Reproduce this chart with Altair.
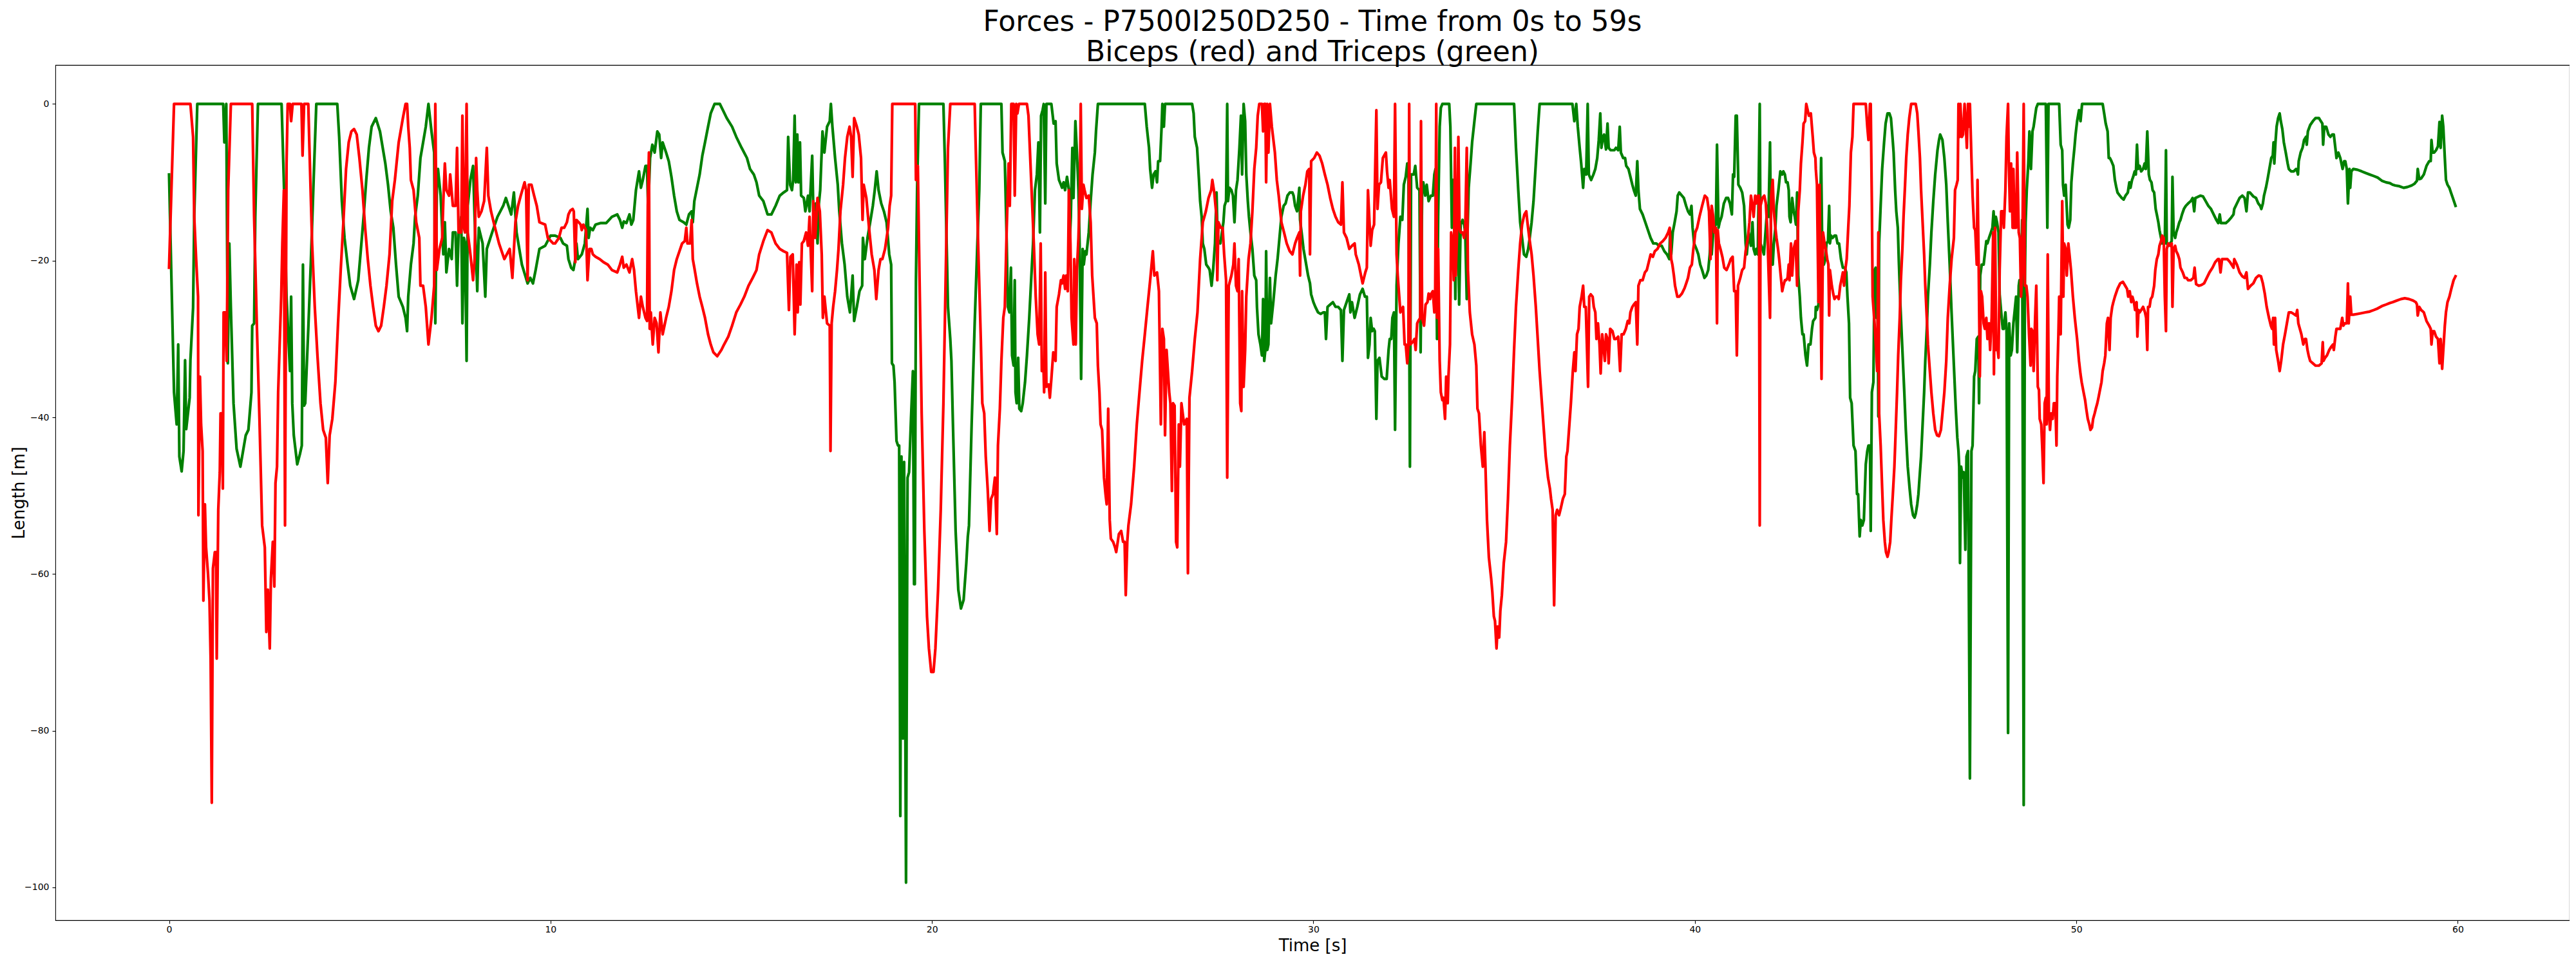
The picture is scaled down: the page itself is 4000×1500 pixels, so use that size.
import altair as alt
import pandas as pd

# ---------------------------------------------------------------------------
# Data (time [s], value) per muscle, split by window
# ---------------------------------------------------------------------------
biceps_00_10 = [
    (0.00, -20.9), (0.13, 0), (0.56, 0), (0.63, -4.2), (0.66, -14.4), (0.71, -19.8), (0.76, -24.6),
    (0.77, -52.5), (0.81, -34.8), (0.84, -40.9), (0.88, -44.3), (0.90, -63.4), (0.94, -51.1),
    (0.97, -56.6), (1.02, -59.9), (1.06, -63.4), (1.09, -70.8), (1.12, -89.2), (1.15, -59.3),
    (1.20, -57.2), (1.23, -57.2), (1.25, -70.8), (1.29, -51.8), (1.33, -47.0), (1.35, -39.5),
    (1.39, -39.5), (1.41, -49.1), (1.43, -26.6), (1.47, -26.6), (1.51, -32.8), (1.55, -11.0),
    (1.62, 0), (2.18, 0), (2.23, -14.4), (2.30, -28.0), (2.37, -40.2), (2.44, -53.8), (2.51, -56.6),
    (2.55, -67.4), (2.59, -62.0), (2.64, -69.5), (2.67, -60.6), (2.72, -55.9), (2.76, -61.6),
    (2.79, -48.4), (2.83, -46.3), (2.86, -36.8), (2.94, -24.6), (2.97, -17.8), (3.01, -11.0),
    (3.04, -53.8), (3.08, -7.6), (3.11, 0), (3.17, 0), (3.20, -2.2), (3.24, 0), (3.47, 0),
    (3.50, -6.6), (3.54, 0), (3.65, 0), (3.68, -5.6), (3.75, -17.8), (3.82, -25.9), (3.89, -32.1),
    (3.97, -38.2), (4.04, -41.6), (4.11, -42.6), (4.16, -48.4), (4.21, -42.3), (4.28, -40.2),
    (4.36, -35.5), (4.43, -28.0), (4.50, -21.2), (4.57, -15.1), (4.64, -8.3), (4.71, -4.9),
    (4.78, -3.5), (4.85, -3.2), (4.92, -3.9), (4.99, -6.9), (5.07, -11.0), (5.14, -15.8),
    (5.21, -19.8), (5.28, -23.2), (5.35, -25.9), (5.42, -28.3), (5.49, -29.0), (5.56, -28.3),
    (5.63, -25.9), (5.70, -23.2), (5.78, -19.2), (5.85, -12.4), (5.92, -9.7), (6.02, -4.9),
    (6.13, -1.8), (6.20, 0), (6.24, 0), (6.27, -2.9), (6.31, -5.6), (6.34, -9.7), (6.41, -11.0),
    (6.48, -15.1), (6.56, -17.1), (6.59, -23.2), (6.66, -23.2), (6.73, -25.9), (6.80, -30.7),
    (6.88, -27.3), (6.95, -23.2), (6.98, 0), (7.02, -21.2), (7.09, -18.5), (7.16, -17.1),
    (7.19, -12.4), (7.23, -7.6), (7.27, -11.0), (7.34, -11.7), (7.37, -9.0), (7.44, -13.0),
    (7.51, -13.0), (7.55, -5.6), (7.59, -16.4), (7.66, -16.4), (7.69, -1.5), (7.73, -15.8),
    (7.76, -16.4), (7.80, 0), (7.83, -16.4), (7.90, -19.2), (7.97, -22.5), (8.01, -19.8),
    (8.05, -6.9), (8.08, -11.0), (8.12, -14.4), (8.19, -13.7), (8.26, -12.4), (8.33, -5.6),
    (8.37, -11.7), (8.44, -13.7), (8.51, -15.1), (8.65, -17.8), (8.79, -19.8), (8.93, -18.5),
    (9.00, -22.2), (9.08, -15.1), (9.15, -13.0), (9.22, -11.7), (9.32, -10.0), (9.36, -11.0),
    (9.40, -22.5), (9.43, -10.3), (9.50, -10.3), (9.57, -11.7), (9.64, -13.0), (9.71, -15.1),
    (9.86, -15.4), (9.93, -17.1), (10.07, -17.8),
]
triceps_00_10 = [
    (0.00, -9.0), (0.13, -36.8), (0.20, -40.9), (0.24, -30.7), (0.27, -45.0), (0.33, -46.9),
    (0.38, -44.3), (0.42, -32.7), (0.45, -41.5), (0.54, -37.5), (0.56, -32.7), (0.63, -26.0),
    (0.66, -14.4), (0.74, 0), (1.42, 0), (1.45, -4.9), (1.50, 0), (1.54, -33.1), (1.58, -17.8),
    (1.62, -26.0), (1.69, -38.2), (1.77, -44.0), (1.87, -46.3), (1.94, -44.3), (2.01, -42.3),
    (2.08, -41.6), (2.16, -36.8), (2.18, -28.3), (2.23, -28.0), (2.26, -14.4), (2.33, 0),
    (2.95, 0), (3.01, -10.0), (3.08, -24.6), (3.13, -30.0), (3.17, -34.1), (3.20, -24.6),
    (3.23, -38.2), (3.27, -42.3), (3.36, -46.0), (3.43, -44.7), (3.48, -43.6), (3.51, -20.5),
    (3.54, -38.5), (3.57, -38.2), (3.65, -28.7), (3.72, -19.8), (3.79, -9.7), (3.86, 0),
    (4.41, 0), (4.46, -4.2), (4.53, -12.4), (4.60, -17.1), (4.68, -20.5), (4.75, -23.2),
    (4.85, -24.9), (4.96, -22.5), (5.03, -18.5), (5.10, -14.4), (5.17, -9.7), (5.24, -5.6),
    (5.31, -2.9), (5.42, -1.8), (5.53, -3.5), (5.67, -7.6), (5.74, -10.3), (5.81, -13.7),
    (5.88, -15.8), (5.95, -20.5), (6.02, -24.6), (6.13, -25.9), (6.20, -27.3), (6.24, -29.0),
    (6.27, -24.6), (6.34, -20.5), (6.41, -17.8), (6.45, -14.4), (6.52, -11.7), (6.59, -6.9),
    (6.66, -4.9), (6.73, -2.9), (6.80, 0), (6.88, -3.5), (6.95, -6.2), (6.98, -28.0),
    (7.02, -11.0), (7.05, -8.3), (7.12, -11.7), (7.19, -19.2), (7.23, -15.1), (7.27, -21.5),
    (7.34, -18.5), (7.41, -19.8), (7.44, -16.4), (7.51, -16.4), (7.55, -23.2), (7.59, -16.4),
    (7.66, -14.4), (7.69, -28.0), (7.73, -17.1), (7.76, -17.8), (7.80, -32.8), (7.83, -13.0),
    (7.90, -9.7), (7.97, -7.9), (8.01, -14.4), (8.08, -23.9), (8.12, -15.8), (8.22, -17.8),
    (8.29, -24.6), (8.33, -18.5), (8.47, -16.4), (8.61, -14.4), (8.76, -13.0), (8.83, -12.0),
    (8.97, -14.1), (9.04, -11.3), (9.11, -16.4), (9.25, -20.5), (9.40, -22.9), (9.47, -22.2),
    (9.54, -22.9), (9.61, -21.2), (9.71, -18.5), (9.86, -18.1), (10.00, -16.8),
]

biceps_10_21 = [
    (10.12, -17.8), (10.22, -17.1), (10.29, -15.8), (10.36, -15.8), (10.43, -15.1), (10.47, -14.1),
    (10.52, -13.6), (10.58, -13.4), (10.61, -13.7), (10.65, -20.2), (10.68, -14.8), (10.74, -15.1),
    (10.79, -15.4), (10.82, -16.1), (10.86, -15.4), (10.93, -16.1), (10.97, -22.5), (11.02, -18.5),
    (11.07, -18.5), (11.11, -19.2), (11.18, -19.5), (11.29, -19.8), (11.39, -20.2), (11.50, -20.5),
    (11.61, -21.2), (11.75, -21.5), (11.82, -20.5), (11.88, -19.5), (11.92, -20.9), (11.99, -20.5),
    (12.07, -21.5), (12.14, -19.8), (12.19, -21.2), (12.24, -23.9), (12.32, -27.3), (12.37, -24.6),
    (12.42, -25.9), (12.49, -27.3), (12.53, -27.7), (12.55, -13.0), (12.58, -6.2), (12.60, -28.7),
    (12.63, -26.6), (12.68, -30.7), (12.73, -27.3), (12.78, -28.0), (12.83, -31.7), (12.88, -26.6),
    (12.94, -29.4), (13.03, -27.3), (13.10, -25.9), (13.17, -23.9), (13.24, -21.2), (13.31, -19.8),
    (13.38, -18.8), (13.45, -17.8), (13.52, -17.5), (13.56, -15.8), (13.59, -17.8), (13.66, -17.8),
    (13.70, -14.8), (13.73, -19.8), (13.77, -20.9), (13.84, -22.9), (13.91, -24.6), (13.98, -25.9),
    (14.05, -27.3), (14.13, -29.4), (14.20, -30.7), (14.27, -31.7), (14.37, -32.2), (14.48, -31.4),
    (14.55, -30.7), (14.66, -29.7), (14.76, -28.3), (14.87, -26.6), (14.98, -25.6), (15.08, -24.6),
    (15.19, -23.2), (15.30, -22.2), (15.40, -21.2), (15.47, -19.2), (15.58, -17.5), (15.69, -16.1),
    (15.79, -16.4), (15.90, -17.8), (16.01, -18.5), (16.11, -18.8), (16.20, -19.0), (16.25, -26.3),
    (16.29, -19.5), (16.35, -19.2), (16.40, -29.4), (16.45, -20.5), (16.48, -26.6), (16.52, -20.2),
    (16.55, -25.6), (16.59, -17.8), (16.64, -17.5), (16.70, -16.4), (16.75, -18.1), (16.79, -14.4),
    (16.82, -18.5), (16.86, -23.9), (16.89, -12.4), (16.94, -17.1), (17.00, -12.0), (17.06, -13.7),
    (17.11, -19.2), (17.14, -27.3), (17.18, -24.6), (17.25, -28.0), (17.32, -28.3), (17.34, -44.3),
    (17.37, -28.0), (17.41, -25.9), (17.46, -23.9), (17.51, -21.2), (17.55, -18.5), (17.60, -13.7),
    (17.67, -10.3), (17.72, -6.9), (17.78, -4.2), (17.84, -2.9), (17.88, -4.2), (17.92, -9.3),
    (17.96, -1.8), (18.03, -2.9), (18.08, -3.9), (18.14, -6.9), (18.18, -14.8), (18.21, -10.3),
    (18.28, -12.0), (18.35, -15.8), (18.42, -19.2), (18.49, -21.2), (18.54, -24.9), (18.60, -21.2),
    (18.65, -19.8), (18.70, -19.8), (18.77, -18.5), (18.85, -15.8), (18.89, -13.0), (18.93, -11.7),
    (18.96, 0), (19.56, 0), (19.58, -9.7), (19.63, -7.9), (19.66, -17.8), (19.73, -39.5),
    (19.80, -54.5), (19.87, -65.4), (19.92, -69.5), (19.98, -72.5), (20.04, -72.5), (20.09, -69.5),
    (20.16, -62.0), (20.23, -51.8), (20.30, -38.2), (20.37, -19.2), (20.42, -5.6), (20.48, 0),
    (21.12, 0),
]
triceps_10_21 = [
    (10.12, -16.8), (10.26, -17.1), (10.33, -17.8), (10.43, -18.1), (10.47, -19.8), (10.54, -20.9),
    (10.60, -21.2), (10.65, -19.8), (10.68, -17.8), (10.72, -19.8), (10.82, -19.2), (10.90, -17.8),
    (10.97, -13.4), (11.00, -17.1), (11.04, -15.8), (11.11, -16.1), (11.18, -15.4), (11.32, -15.2),
    (11.46, -15.2), (11.61, -14.4), (11.75, -14.1), (11.82, -14.8), (11.88, -15.8), (11.92, -15.0),
    (11.99, -15.2), (12.07, -14.1), (12.12, -15.4), (12.17, -14.8), (12.24, -11.0), (12.32, -8.6),
    (12.37, -10.7), (12.42, -9.7), (12.49, -7.9), (12.53, -7.9), (12.56, -13.7), (12.61, -6.9),
    (12.67, -5.2), (12.73, -6.2), (12.80, -3.5), (12.85, -3.9), (12.90, -6.9), (12.94, -4.9),
    (13.03, -6.2), (13.10, -7.3), (13.17, -9.3), (13.24, -11.7), (13.31, -13.7), (13.38, -14.8),
    (13.49, -15.1), (13.56, -15.4), (13.63, -14.1), (13.70, -13.7), (13.73, -15.1), (13.77, -12.4),
    (13.84, -10.7), (13.91, -9.0), (13.98, -6.6), (14.05, -4.9), (14.13, -2.9), (14.20, -1.2),
    (14.30, 0), (14.44, 0), (14.52, -0.8), (14.62, -1.8), (14.76, -2.9), (14.87, -4.2),
    (15.01, -5.6), (15.15, -6.9), (15.23, -8.3), (15.33, -9.0), (15.40, -10.0), (15.47, -11.7),
    (15.58, -12.4), (15.69, -14.1), (15.79, -14.1), (15.90, -13.0), (16.01, -11.7), (16.11, -11.3),
    (16.20, -11.0), (16.23, -4.2), (16.28, -10.3), (16.33, -11.0), (16.36, -9.7), (16.40, -1.5),
    (16.43, -10.0), (16.47, -3.9), (16.50, -10.0), (16.54, -4.9), (16.57, -11.7), (16.64, -12.0),
    (16.68, -13.7), (16.75, -11.7), (16.79, -13.7), (16.86, -6.6), (16.89, -13.7), (16.96, -12.7),
    (17.00, -17.8), (17.03, -13.0), (17.07, -11.0), (17.13, -3.5), (17.18, -6.2), (17.25, -2.9),
    (17.32, -2.2), (17.35, 0), (17.39, -2.9), (17.46, -6.9), (17.53, -10.3), (17.57, -13.7),
    (17.64, -17.8), (17.71, -20.5), (17.78, -24.6), (17.85, -26.6), (17.92, -21.9), (17.96, -27.7),
    (18.03, -25.9), (18.10, -23.9), (18.17, -23.2), (18.19, -17.1), (18.24, -19.8), (18.31, -17.1),
    (18.38, -15.1), (18.45, -13.0), (18.50, -11.0), (18.55, -8.6), (18.60, -11.0), (18.67, -12.7),
    (18.74, -13.7), (18.81, -15.1), (18.88, -19.2), (18.93, -20.5), (18.95, -33.1), (18.99, -33.4),
    (19.02, -35.5), (19.07, -43.0), (19.11, -43.6), (19.14, -43.6), (19.17, -90.9), (19.20, -45.0),
    (19.24, -81.0), (19.27, -45.7), (19.32, -99.4), (19.36, -47.7), (19.40, -47.0), (19.45, -40.2),
    (19.50, -34.1), (19.53, -61.3), (19.55, -61.3), (19.58, -22.5), (19.61, -11.0), (19.66, 0),
    (20.30, 0), (20.34, -7.6), (20.42, -25.9), (20.48, -30.0), (20.51, -32.8), (20.55, -40.9),
    (20.62, -54.5), (20.69, -62.0), (20.76, -64.4), (20.83, -63.3), (20.90, -58.6), (20.94, -55.2),
    (20.97, -53.8), (21.04, -40.9), (21.12, -28.0), (21.19, -17.8), (21.24, -11.0),
]

biceps_21_32 = [
    (21.14, -4.2), (21.21, -17.8), (21.28, -30.0), (21.32, -38.2), (21.37, -39.5), (21.41, -45.0),
    (21.46, -49.1), (21.51, -54.5), (21.55, -50.4), (21.60, -49.8), (21.65, -47.7), (21.70, -54.9),
    (21.73, -43.6), (21.78, -38.9), (21.82, -32.8), (21.87, -27.3), (21.91, -25.9), (21.96, -15.8),
    (22.01, -7.6), (22.04, -13.0), (22.08, 0), (22.14, 0), (22.17, -11.7), (22.21, 0), (22.24, -1.2),
    (22.28, 0), (22.49, 0), (22.53, -1.5), (22.60, -9.7), (22.67, -17.8), (22.72, -24.6),
    (22.77, -29.4), (22.81, -30.7), (22.85, -17.8), (22.88, -34.1), (22.92, -32.8), (22.94, -36.8),
    (22.97, -21.5), (23.00, -36.1), (23.06, -35.8), (23.09, -37.5), (23.13, -35.1), (23.18, -31.7),
    (23.24, -32.8), (23.27, -25.9), (23.33, -24.3), (23.38, -22.5), (23.41, -22.9), (23.45, -21.9),
    (23.49, -23.6), (23.52, -21.9), (23.56, -23.9), (23.59, -11.0), (23.63, -17.8), (23.66, -27.3),
    (23.71, -30.7), (23.73, -19.8), (23.77, -30.7), (23.80, -21.2), (23.84, -17.1), (23.88, -10.3),
    (23.90, 0), (23.93, -13.4), (23.97, -10.3), (24.00, -11.0), (24.05, -12.0), (24.11, -11.7),
    (24.16, -15.1), (24.20, -21.9), (24.27, -27.3), (24.32, -28.0), (24.35, -33.4), (24.39, -36.8),
    (24.42, -40.9), (24.46, -41.6), (24.51, -47.7), (24.55, -49.8), (24.58, -51.1), (24.62, -38.9),
    (24.66, -53.1), (24.69, -55.5), (24.75, -55.9), (24.80, -56.6), (24.83, -57.2), (24.87, -55.9),
    (24.90, -54.9), (24.96, -54.5), (25.01, -55.9), (25.05, -55.9), (25.08, -62.7), (25.12, -55.9),
    (25.15, -53.8), (25.22, -51.1), (25.30, -46.3), (25.37, -40.9), (25.44, -36.8), (25.51, -32.8),
    (25.58, -29.4), (25.65, -25.9), (25.72, -22.5), (25.79, -18.8), (25.83, -21.9), (25.90, -21.5),
    (25.95, -23.9), (26.00, -40.9), (26.04, -28.7), (26.08, -30.0), (26.11, -42.3), (26.15, -31.4),
    (26.22, -36.8), (26.25, -38.2), (26.29, -49.4), (26.32, -38.2), (26.36, -38.5), (26.40, -55.9),
    (26.43, -56.6), (26.47, -40.9), (26.50, -46.3), (26.54, -38.2), (26.61, -40.9), (26.68, -40.2),
    (26.71, -59.9), (26.75, -37.5), (26.82, -34.1), (26.89, -30.0), (26.96, -26.6), (27.03, -19.8),
    (27.10, -15.1), (27.18, -13.7), (27.25, -12.0), (27.32, -11.0), (27.35, -9.7), (27.40, -11.3),
    (27.46, -14.4), (27.48, -22.5), (27.51, -15.1), (27.57, -15.8), (27.62, -15.8), (27.66, -19.2),
    (27.71, -22.5), (27.74, -47.7), (27.78, -23.2), (27.85, -21.9), (27.90, -20.5), (27.93, -17.8),
    (27.97, -23.2), (28.01, -23.9), (28.04, -19.8), (28.08, -38.2), (28.11, -39.2), (28.13, -23.9),
    (28.17, -36.1), (28.21, -31.4), (28.24, -24.6), (28.30, -19.8), (28.35, -17.8), (28.40, -13.7),
    (28.45, -8.3), (28.50, -5.6), (28.54, -1.5), (28.58, 0), (28.65, 0), (28.68, -3.5), (28.71, 0),
    (28.74, 0), (28.76, -10.0), (28.79, 0), (28.82, -6.2), (28.86, 0), (28.91, -2.9), (28.99, -6.2),
    (29.04, -9.7), (29.09, -11.7), (29.16, -15.1), (29.23, -16.4), (29.30, -17.8), (29.38, -18.8),
    (29.45, -19.2), (29.52, -17.8), (29.57, -17.1), (29.63, -16.4), (29.65, -21.9), (29.67, -13.7),
    (29.73, -11.7), (29.79, -10.3), (29.84, -8.6), (29.89, -8.3), (29.91, -19.2), (29.94, -7.3),
    (30.02, -6.9), (30.09, -6.2), (30.16, -6.6), (30.23, -7.6), (30.30, -9.0), (30.37, -10.3),
    (30.44, -12.0), (30.51, -13.4), (30.58, -14.4), (30.65, -15.1), (30.72, -15.4), (30.76, -10.0),
    (30.80, -16.4), (30.87, -17.1), (30.94, -18.5), (31.01, -18.1), (31.08, -17.8), (31.11, -19.2),
    (31.19, -20.5), (31.26, -22.2), (31.29, -22.9), (31.36, -21.5), (31.40, -20.9), (31.43, -11.0),
    (31.47, -15.1), (31.50, -18.1), (31.54, -16.1), (31.59, -15.4), (31.65, -0.8), (31.68, -13.4),
    (31.72, -10.3), (31.77, -10.0), (31.82, -6.9), (31.90, -6.2), (31.93, -8.6), (31.97, -10.7),
    (32.00, -9.7), (32.06, -13.4), (32.11, -14.4), (32.14, 0), (32.18, -19.2),
]
triceps_21_32 = [
    (21.28, 0), (21.82, 0), (21.85, -6.2), (21.91, -7.3), (21.96, -17.8), (21.99, -25.9),
    (22.03, -26.6), (22.07, -20.9), (22.10, -32.1), (22.14, -33.4), (22.17, -22.5), (22.19, -36.8),
    (22.22, -38.2), (22.26, -32.4), (22.29, -38.9), (22.34, -39.2), (22.38, -38.2), (22.44, -35.5),
    (22.49, -32.1), (22.55, -27.3), (22.60, -22.5), (22.65, -17.8), (22.70, -11.0), (22.75, -9.0),
    (22.79, -4.9), (22.83, -16.4), (22.86, -1.5), (22.90, -0.8), (22.93, 0), (22.97, -12.7),
    (23.00, 0), (23.13, 0), (23.19, -2.5), (23.24, -2.2), (23.27, -7.6), (23.33, -9.7),
    (23.38, -10.3), (23.41, -10.7), (23.45, -10.0), (23.49, -11.0), (23.54, -9.3), (23.59, -11.0),
    (23.61, -17.8), (23.64, -14.4), (23.68, -5.6), (23.71, -12.0), (23.76, -2.2), (23.80, -6.2),
    (23.84, -11.0), (23.87, -17.8), (23.91, -35.1), (23.95, -18.5), (23.98, -20.5), (24.02, -18.8),
    (24.05, -19.2), (24.11, -16.4), (24.16, -12.4), (24.21, -9.0), (24.27, -6.2), (24.30, -3.5),
    (24.35, 0), (25.58, 0), (25.63, -2.9), (25.69, -5.6), (25.72, -8.3), (25.77, -10.7),
    (25.81, -9.0), (25.86, -8.6), (25.90, -10.0), (25.93, -7.3), (25.98, -7.3), (26.02, -2.9),
    (26.04, 0), (26.08, -2.9), (26.11, 0), (26.82, 0), (26.86, -1.2), (26.89, -4.2), (26.95, -5.6),
    (27.00, -9.7), (27.03, -12.4), (27.07, -14.4), (27.10, -17.8), (27.14, -18.5), (27.19, -20.5),
    (27.25, -20.9), (27.28, -21.2), (27.33, -23.2), (27.37, -21.2), (27.42, -17.8), (27.46, -11.3),
    (27.49, -17.8), (27.53, -17.5), (27.56, -17.8), (27.64, -15.1), (27.67, -13.0), (27.71, -12.4),
    (27.74, 0), (27.76, -12.4), (27.80, -10.7), (27.85, -11.0), (27.89, -11.7), (27.93, -15.1),
    (27.97, -11.0), (28.01, -9.7), (28.06, -5.6), (28.10, -1.5), (28.13, -9.0), (28.17, 0),
    (28.21, -2.2), (28.24, -9.0), (28.28, -12.4), (28.31, -14.4), (28.35, -16.4), (28.40, -18.5),
    (28.45, -21.9), (28.50, -22.5), (28.52, -25.9), (28.56, -29.4), (28.61, -30.7), (28.65, -32.1),
    (28.68, -24.9), (28.71, -32.8), (28.74, -31.4), (28.76, -18.8), (28.79, -31.4), (28.82, -30.7),
    (28.86, -22.2), (28.89, -28.0), (28.95, -25.2), (29.01, -21.9), (29.06, -19.8), (29.11, -17.1),
    (29.16, -14.4), (29.22, -13.0), (29.27, -12.7), (29.32, -11.7), (29.38, -11.3), (29.45, -11.3),
    (29.48, -11.7), (29.52, -13.0), (29.57, -13.7), (29.63, -10.7), (29.65, -14.8), (29.70, -16.8),
    (29.74, -18.5), (29.80, -20.2), (29.86, -21.9), (29.91, -22.9), (29.94, -24.3), (30.00, -25.3),
    (30.05, -25.9), (30.12, -26.6), (30.19, -26.8), (30.26, -26.6), (30.30, -26.6), (30.33, -30.0),
    (30.37, -25.9), (30.44, -25.6), (30.51, -25.3), (30.58, -25.9), (30.65, -25.9), (30.72, -26.3),
    (30.76, -32.8), (30.80, -26.3), (30.87, -25.3), (30.94, -24.3), (30.97, -26.6), (31.01, -25.3),
    (31.08, -27.3), (31.15, -25.9), (31.22, -24.3), (31.29, -23.6), (31.35, -24.6), (31.40, -24.6),
    (31.43, -32.4), (31.47, -30.7), (31.50, -27.3), (31.54, -29.0), (31.58, -28.7), (31.61, -29.0),
    (31.65, -40.2), (31.68, -32.8), (31.73, -32.4), (31.79, -34.8), (31.86, -35.1), (31.92, -35.1),
    (31.97, -31.4), (32.00, -30.0), (32.04, -30.0), (32.07, -27.3), (32.11, -26.6), (32.14, -41.6),
    (32.18, -23.2),
]

biceps_32_43 = [
    (32.21, -21.9), (32.28, -26.6), (32.35, -25.9), (32.39, -30.7), (32.42, -30.7), (32.46, -33.1),
    (32.49, -30.7), (32.51, 0), (32.54, -30.7), (32.60, -30.4), (32.65, -30.0), (32.68, -31.4),
    (32.72, -28.0), (32.75, -27.7), (32.80, -27.3), (32.82, -2.2), (32.85, -27.3), (32.90, -28.3),
    (32.94, -25.6), (32.99, -25.3), (33.02, -24.2), (33.06, -24.9), (33.09, -24.2), (33.13, -23.9),
    (33.17, -26.6), (33.19, -25.9), (33.22, 0), (33.24, -27.3), (33.27, -18.5), (33.31, -32.8),
    (33.34, -36.8), (33.38, -37.8), (33.41, -37.5), (33.45, -40.2), (33.48, -34.8), (33.52, -38.2),
    (33.54, -34.8), (33.58, -30.7), (33.61, -16.4), (33.65, -17.8), (33.68, -22.5), (33.71, -5.6),
    (33.73, -21.9), (33.77, -15.8), (33.80, -4.2), (33.83, -15.8), (33.86, -16.4), (33.91, -16.4),
    (33.95, -17.1), (33.98, -15.8), (34.02, -5.6), (34.05, -21.2), (34.10, -26.6), (34.16, -29.4),
    (34.22, -30.7), (34.27, -33.4), (34.30, -38.9), (34.34, -39.5), (34.39, -43.6), (34.44, -46.3),
    (34.48, -41.9), (34.51, -46.3), (34.55, -53.1), (34.60, -57.9), (34.66, -60.6), (34.69, -62.3),
    (34.73, -65.4), (34.76, -66.0), (34.80, -69.5), (34.83, -66.7), (34.87, -68.1), (34.90, -64.7),
    (34.94, -62.7), (34.99, -58.6), (35.05, -55.9), (35.10, -50.4), (35.15, -43.6), (35.21, -37.5),
    (35.26, -31.4), (35.31, -25.9), (35.37, -21.2), (35.42, -17.8), (35.47, -15.4), (35.53, -14.1),
    (35.58, -13.7), (35.61, -15.1), (35.66, -17.1), (35.72, -19.2), (35.77, -21.9), (35.83, -25.9),
    (35.88, -30.0), (35.93, -34.1), (35.99, -38.2), (36.04, -41.6), (36.09, -45.0), (36.15, -47.7),
    (36.20, -49.1), (36.23, -50.4), (36.27, -51.8), (36.31, -64.0), (36.35, -52.5), (36.39, -51.8),
    (36.44, -52.5), (36.49, -51.5), (36.54, -50.4), (36.59, -49.8), (36.63, -45.0), (36.66, -44.3),
    (36.70, -41.6), (36.75, -38.2), (36.80, -34.1), (36.84, -31.7), (36.87, -34.1), (36.91, -29.4),
    (36.95, -28.7), (36.98, -25.9), (37.03, -24.6), (37.07, -23.2), (37.10, -25.9), (37.14, -25.9),
    (37.20, -36.1), (37.23, -24.6), (37.27, -24.3), (37.32, -24.6), (37.35, -25.9), (37.39, -26.6),
    (37.42, -30.0), (37.46, -28.0), (37.50, -30.7), (37.53, -34.4), (37.57, -29.4), (37.60, -30.7),
    (37.64, -32.8), (37.67, -29.4), (37.71, -30.0), (37.74, -33.1), (37.78, -28.7), (37.84, -29.0),
    (37.89, -30.0), (37.93, -30.0), (37.99, -29.7), (38.04, -34.1), (38.08, -29.4), (38.13, -29.4),
    (38.19, -28.7), (38.24, -27.7), (38.28, -28.0), (38.31, -26.6), (38.36, -25.9), (38.40, -25.6),
    (38.45, -25.3), (38.49, -30.7), (38.52, -23.2), (38.57, -22.5), (38.63, -22.5), (38.69, -21.5),
    (38.74, -21.2), (38.79, -20.2), (38.84, -19.2), (38.90, -19.5), (38.95, -18.8), (39.02, -18.5),
    (39.09, -17.8), (39.16, -17.5), (39.23, -17.1), (39.30, -16.4), (39.34, -15.8), (39.38, -19.8),
    (39.41, -20.5), (39.45, -21.9), (39.48, -23.2), (39.54, -24.6), (39.59, -24.6), (39.66, -24.2),
    (39.73, -23.5), (39.78, -22.8), (39.82, -22.2), (39.87, -20.9), (39.92, -20.5), (39.96, -18.5),
    (39.98, -17.8), (40.01, -16.4), (40.06, -15.8), (40.12, -14.4), (40.19, -13.0), (40.26, -11.7),
    (40.32, -12.0), (40.37, -13.7), (40.41, -19.8), (40.44, -13.0), (40.48, -14.4), (40.51, -16.4),
    (40.55, -15.8), (40.58, -28.0), (40.60, -16.1), (40.63, -17.8), (40.67, -18.5), (40.72, -19.5),
    (40.77, -20.9), (40.83, -21.2), (40.89, -20.5), (40.94, -19.8), (40.99, -19.5), (41.03, -23.9),
    (41.07, -23.9), (41.10, -32.1), (41.13, -23.2), (41.19, -22.2), (41.24, -21.2), (41.29, -20.9),
    (41.33, -18.8), (41.39, -17.1), (41.43, -15.1), (41.47, -11.7), (41.51, -13.0), (41.54, -14.4),
    (41.58, -11.7), (41.61, -12.7), (41.65, -11.7), (41.68, -11.7), (41.70, -53.8), (41.72, -13.0),
    (41.77, -12.0), (41.82, -11.7), (41.86, -12.7), (41.90, -16.1), (41.93, -21.2), (41.97, -27.3),
    (42.00, -11.7), (42.04, -9.7), (42.07, -13.7), (42.11, -15.8), (42.14, -17.1), (42.18, -18.5),
    (42.21, -19.8), (42.25, -21.9), (42.29, -23.9), (42.32, -23.2), (42.36, -22.5), (42.39, -22.5),
    (42.43, -22.2), (42.46, -20.5), (42.48, -22.5), (42.52, -17.8), (42.55, -21.9), (42.59, -18.5),
    (42.64, -17.5), (42.68, -23.2), (42.71, -13.7), (42.75, -11.0), (42.78, -7.6), (42.82, -4.9),
    (42.85, -2.5), (42.89, -2.2), (42.92, 0), (42.99, -1.5), (43.04, -1.2), (43.09, -4.2),
    (43.12, -6.2), (43.16, -6.9),
]
triceps_32_43 = [
    (32.23, -17.8), (32.28, -14.4), (32.33, -14.8), (32.37, -10.3), (32.42, -9.3), (32.46, -7.6),
    (32.49, -7.9), (32.53, -46.3), (32.56, -9.0), (32.63, -9.0), (32.67, -7.9), (32.72, -10.7),
    (32.78, -11.0), (32.81, -31.7), (32.85, -11.0), (32.88, -10.0), (32.93, -11.7), (32.97, -10.3),
    (33.02, -12.4), (33.08, -11.7), (33.13, -11.7), (33.17, -9.0), (33.20, -8.3), (33.24, -30.0),
    (33.27, -14.4), (33.31, -2.9), (33.34, -0.5), (33.38, 0), (33.56, 0), (33.59, -2.9),
    (33.63, -15.8), (33.66, -9.7), (33.70, -15.8), (33.72, -24.9), (33.75, -13.0), (33.79, -15.8),
    (33.82, -25.6), (33.86, -15.4), (33.91, -14.8), (33.95, -15.4), (33.98, -16.4), (34.02, -24.9),
    (34.04, -16.4), (34.07, -10.7), (34.12, -7.6), (34.16, -4.9), (34.22, -2.2), (34.27, 0),
    (35.26, 0), (35.31, -5.6), (35.37, -11.0), (35.42, -15.1), (35.47, -17.1), (35.52, -19.2),
    (35.58, -19.5), (35.63, -18.5), (35.67, -17.1), (35.72, -15.1), (35.77, -12.4), (35.83, -7.6),
    (35.88, -3.5), (35.93, 0), (36.79, 0), (36.84, -2.2), (36.89, 0), (36.93, -2.9), (36.98, -5.6),
    (37.02, -7.6), (37.07, -10.7), (37.10, -8.3), (37.15, -9.0), (37.19, 0), (37.22, -9.0),
    (37.28, -9.7), (37.34, -9.0), (37.39, -8.3), (37.44, -6.9), (37.48, -4.6), (37.52, -1.2),
    (37.55, -5.6), (37.59, -4.2), (37.62, -3.9), (37.67, -5.8), (37.71, -2.5), (37.74, -5.6),
    (37.79, -5.9), (37.85, -5.9), (37.89, -5.9), (37.93, -5.6), (37.99, -5.9), (38.03, -2.9),
    (38.06, -6.2), (38.12, -6.9), (38.17, -6.9), (38.20, -7.9), (38.26, -8.3), (38.31, -9.3),
    (38.36, -10.3), (38.40, -11.0), (38.45, -11.7), (38.49, -7.3), (38.52, -11.0), (38.56, -13.4),
    (38.63, -14.1), (38.70, -15.1), (38.77, -16.1), (38.84, -17.1), (38.91, -17.8), (38.99, -17.8),
    (39.06, -18.1), (39.13, -18.1), (39.20, -18.8), (39.27, -19.2), (39.33, -19.8), (39.35, -16.1),
    (39.38, -19.2), (39.42, -16.4), (39.47, -15.1), (39.52, -13.7), (39.55, -11.7), (39.59, -11.3),
    (39.66, -11.7), (39.71, -12.0), (39.77, -13.0), (39.82, -13.7), (39.87, -14.1), (39.91, -13.0),
    (39.94, -15.8), (39.98, -17.8), (40.04, -18.5), (40.09, -19.2), (40.14, -20.5), (40.19, -21.2),
    (40.25, -22.2), (40.30, -21.9), (40.35, -21.2), (40.39, -19.2), (40.42, -16.4), (40.44, -19.2),
    (40.49, -15.8), (40.55, -15.4), (40.58, -5.2), (40.62, -15.8), (40.65, -15.1), (40.70, -14.4),
    (40.76, -12.7), (40.82, -12.0), (40.87, -12.0), (40.92, -12.7), (40.97, -14.1), (41.00, -9.0),
    (41.03, -9.3), (41.07, -1.5), (41.10, -1.5), (41.14, -10.3), (41.19, -10.7), (41.24, -11.3),
    (41.29, -13.0), (41.33, -17.8), (41.36, -19.2), (41.41, -16.4), (41.47, -18.1), (41.51, -15.1),
    (41.54, -18.5), (41.58, -19.2), (41.61, -18.5), (41.65, -19.2), (41.70, 0), (41.72, -17.8),
    (41.77, -18.5), (41.81, -19.2), (41.86, -15.8), (41.90, -13.0), (41.93, -14.4), (41.97, -4.9),
    (42.00, -19.2), (42.04, -20.5), (42.07, -17.8), (42.11, -15.8), (42.14, -13.0), (42.19, -11.0),
    (42.24, -8.6), (42.29, -9.0), (42.32, -8.6), (42.36, -9.0), (42.39, -10.0), (42.43, -10.0),
    (42.46, -11.0), (42.48, -14.4), (42.51, -15.1), (42.55, -12.0), (42.59, -13.7), (42.62, -14.4),
    (42.65, -15.4), (42.68, -11.3), (42.71, -21.9), (42.75, -24.6), (42.78, -27.3), (42.82, -29.4),
    (42.85, -29.4), (42.90, -32.1), (42.94, -33.4), (42.98, -30.7), (43.03, -30.7), (43.07, -28.7),
    (43.10, -27.7), (43.16, -27.3),
]

biceps_43_54 = [
    (43.17, -8.3), (43.20, -10.3), (43.24, -25.3), (43.27, -10.3), (43.30, -25.9), (43.32, -35.1),
    (43.36, -16.4), (43.40, -17.8), (43.43, -18.5), (43.47, -19.8), (43.50, -20.5), (43.52, -27.0),
    (43.54, -21.2), (43.59, -23.2), (43.63, -24.3), (43.66, -24.9), (43.70, -24.6), (43.74, -24.6),
    (43.77, -24.9), (43.81, -23.2), (43.84, -22.5), (43.88, -21.5), (43.91, -23.2), (43.95, -20.9),
    (43.98, -19.8), (44.02, -15.8), (44.05, -13.0), (44.09, -6.2), (44.13, -4.2), (44.16, 0),
    (44.48, 0), (44.52, -2.9), (44.55, -4.6), (44.59, 0), (44.61, 0), (44.64, -13.0), (44.66, -24.6),
    (44.71, -28.0), (44.75, -31.4), (44.78, -34.1), (44.81, -16.4), (44.83, -39.5), (44.87, -43.6),
    (44.91, -49.1), (44.94, -53.1), (44.98, -55.9), (45.01, -57.2), (45.05, -57.8), (45.08, -57.2),
    (45.12, -55.9), (45.15, -53.1), (45.19, -49.8), (45.23, -46.3), (45.26, -42.3), (45.30, -36.8),
    (45.33, -32.1), (45.37, -27.3), (45.40, -22.5), (45.44, -18.5), (45.47, -14.4), (45.51, -10.3),
    (45.54, -6.9), (45.58, -3.9), (45.62, -1.8), (45.67, 0), (45.79, 0), (45.83, -1.2), (45.86, -3.5),
    (45.90, -6.9), (45.93, -11.0), (45.97, -15.1), (46.01, -19.2), (46.04, -23.2), (46.08, -27.3),
    (46.11, -30.7), (46.16, -34.1), (46.20, -36.8), (46.25, -39.5), (46.30, -41.6), (46.35, -42.3),
    (46.40, -42.4), (46.45, -41.6), (46.49, -39.5), (46.54, -36.8), (46.59, -32.8), (46.63, -27.3),
    (46.68, -23.2), (46.73, -19.8), (46.79, -17.1), (46.82, -11.0), (46.86, -10.3), (46.89, -9.7),
    (46.91, 0), (46.94, -4.2), (46.96, 0), (47.00, -4.2), (47.03, -3.9), (47.07, 0), (47.11, -3.5),
    (47.13, -5.6), (47.16, 0), (47.19, -2.9), (47.21, 0), (47.25, -6.9), (47.28, -11.7),
    (47.32, -15.8), (47.35, -16.1), (47.39, -20.5), (47.41, -9.7), (47.44, -20.5), (47.47, -34.8),
    (47.50, -23.9), (47.53, -24.6), (47.57, -28.0), (47.60, -28.7), (47.64, -27.3), (47.67, -30.0),
    (47.71, -28.0), (47.74, -31.4), (47.78, -27.3), (47.82, -16.4), (47.84, -34.5), (47.87, -15.8),
    (47.90, -31.4), (47.94, -31.4), (47.96, -32.4), (47.99, -21.2), (48.03, -13.7), (48.07, -13.7),
    (48.10, -15.8), (48.14, -11.0), (48.17, -4.2), (48.21, 0), (48.23, -7.6), (48.26, -13.7),
    (48.29, -7.6), (48.33, -15.8), (48.35, -8.3), (48.38, -15.8), (48.42, -15.8), (48.45, -6.2),
    (48.49, -16.4), (48.52, -17.1), (48.55, -24.6), (48.58, -21.2), (48.62, 0), (48.65, -23.2),
    (48.69, -23.2), (48.72, -24.6), (48.76, -29.4), (48.80, -33.4), (48.82, -28.7), (48.85, -29.0),
    (48.88, -34.1), (48.92, -27.3), (48.95, -23.2), (48.99, -36.1), (49.02, -36.5), (49.04, -40.2),
    (49.08, -40.9), (49.11, -44.3), (49.14, -48.4), (49.17, -38.2), (49.20, -37.5), (49.22, -40.9),
    (49.25, -19.2), (49.28, -39.5), (49.31, -41.6), (49.34, -39.5), (49.38, -40.2), (49.41, -38.2),
    (49.45, -38.2), (49.48, -43.6), (49.50, -34.8), (49.53, -29.4), (49.55, -24.6), (49.59, -29.4),
    (49.63, -12.4), (49.66, -24.6), (49.68, -17.8), (49.72, -18.5), (49.75, -21.9), (49.79, -17.8),
    (49.82, -19.2), (49.86, -21.2), (49.91, -24.6), (49.96, -27.3), (50.02, -30.0), (50.07, -32.8),
    (50.11, -34.5), (50.14, -35.5), (50.19, -36.8), (50.23, -37.8), (50.26, -38.9), (50.30, -40.2),
    (50.34, -40.9), (50.37, -41.6), (50.41, -41.3), (50.44, -40.2), (50.48, -39.5), (50.51, -38.9),
    (50.55, -38.2), (50.58, -37.5), (50.62, -36.5), (50.66, -35.5), (50.69, -34.1), (50.73, -33.1),
    (50.76, -32.1), (50.80, -28.0), (50.83, -27.3), (50.87, -31.4), (50.90, -27.3), (50.94, -25.9),
    (50.97, -25.3), (51.01, -24.6), (51.08, -23.6), (51.15, -22.9), (51.22, -22.7), (51.28, -23.2),
    (51.33, -23.6), (51.36, -24.6), (51.40, -23.9), (51.44, -25.3), (51.47, -24.6), (51.51, -25.3),
    (51.54, -26.3), (51.58, -25.3), (51.60, -29.7), (51.63, -26.3), (51.66, -26.6), (51.70, -26.3),
    (51.75, -25.9), (51.80, -26.6), (51.83, -27.3), (51.86, -31.4), (51.88, -25.9), (51.92, -25.9),
    (51.95, -24.9), (51.99, -24.6), (52.04, -23.2), (52.07, -21.2), (52.11, -19.8), (52.15, -19.2),
    (52.18, -18.1), (52.22, -17.5), (52.25, -16.8), (52.29, -17.1), (52.32, -24.6), (52.35, -29.0),
    (52.37, -18.5), (52.41, -17.8), (52.46, -18.1), (52.50, -17.8), (52.52, -25.9), (52.55, -18.5),
    (52.59, -18.1), (52.62, -18.8), (52.66, -19.2), (52.70, -19.8), (52.73, -20.9), (52.79, -21.5),
    (52.84, -22.2), (52.89, -22.2), (52.93, -22.5), (53.00, -22.5), (53.07, -22.2), (53.10, -20.9),
    (53.14, -23.0), (53.21, -23.2), (53.28, -23.1), (53.35, -22.9), (53.42, -22.2), (53.49, -21.5),
    (53.57, -20.9), (53.64, -20.2), (53.71, -19.8), (53.74, -19.8), (53.78, -21.5), (53.82, -19.8),
    (53.89, -19.8), (53.96, -19.8), (54.03, -20.2), (54.12, -20.9),
]
triceps_43_54 = [
    (43.17, -25.9), (43.20, -26.3), (43.24, -25.6), (43.31, -6.9), (43.34, -19.2), (43.38, -20.5),
    (43.42, -19.8), (43.45, -17.8), (43.49, -17.5), (43.52, -13.0), (43.54, -17.8), (43.57, -16.8),
    (43.61, -17.1), (43.66, -16.8), (43.70, -16.8), (43.74, -17.8), (43.78, -17.8), (43.83, -19.8),
    (43.88, -20.9), (43.93, -20.9), (43.97, -21.5), (44.00, -24.6), (44.04, -28.0), (44.07, -37.5),
    (44.11, -38.2), (44.16, -43.6), (44.21, -44.3), (44.25, -49.8), (44.28, -49.8), (44.32, -55.2),
    (44.35, -53.1), (44.39, -53.8), (44.43, -53.1), (44.48, -46.0), (44.52, -44.3), (44.55, -43.6),
    (44.59, -43.6), (44.61, -54.5), (44.64, -36.8), (44.68, -35.5), (44.71, -21.2), (44.74, -20.9),
    (44.76, -27.3), (44.79, -23.2), (44.81, -39.9), (44.83, -17.8), (44.87, -13.0), (44.91, -8.3),
    (44.96, -4.9), (45.00, -2.5), (45.05, -1.2), (45.10, -1.2), (45.14, -1.8), (45.18, -4.2),
    (45.21, -6.2), (45.25, -11.0), (45.28, -13.7), (45.32, -15.8), (45.35, -20.5), (45.39, -25.9),
    (45.44, -31.4), (45.49, -36.8), (45.53, -41.6), (45.58, -46.3), (45.63, -49.1), (45.67, -51.1),
    (45.72, -52.5), (45.76, -52.8), (45.79, -52.3), (45.83, -51.1), (45.86, -49.8), (45.90, -47.0),
    (45.93, -45.0), (45.97, -40.9), (46.01, -36.8), (46.04, -32.8), (46.08, -28.7), (46.11, -24.6),
    (46.16, -20.5), (46.20, -16.4), (46.25, -12.4), (46.30, -9.0), (46.36, -5.9), (46.40, -4.6),
    (46.43, -3.9), (46.49, -4.6), (46.54, -6.9), (46.59, -10.3), (46.63, -15.1), (46.68, -20.5),
    (46.73, -26.7), (46.79, -33.4), (46.84, -38.9), (46.88, -42.6), (46.91, -44.3), (46.93, -46.3),
    (46.95, -58.6), (46.98, -46.3), (47.02, -47.7), (47.05, -47.0), (47.09, -56.9), (47.12, -45.0),
    (47.16, -44.3), (47.21, -86.1), (47.25, -44.3), (47.28, -43.6), (47.32, -34.8), (47.35, -34.1),
    (47.39, -30.0), (47.43, -29.7), (47.45, -38.2), (47.48, -21.9), (47.52, -20.5), (47.57, -20.5),
    (47.60, -19.2), (47.64, -17.5), (47.67, -17.8), (47.71, -17.1), (47.76, -16.4), (47.80, -15.8),
    (47.83, -13.7), (47.86, -16.4), (47.89, -14.4), (47.92, -15.1), (47.96, -16.4), (47.99, -24.3),
    (48.03, -26.6), (48.07, -28.7), (48.10, -28.7), (48.14, -26.6), (48.17, -28.7), (48.21, -80.3),
    (48.24, -28.0), (48.28, -32.1), (48.31, -31.4), (48.35, -28.0), (48.38, -26.6), (48.42, -24.6),
    (48.45, -31.7), (48.49, -23.2), (48.51, -22.5), (48.55, -23.2), (48.58, -14.8), (48.62, -89.5),
    (48.65, -23.2), (48.67, -15.1), (48.70, -11.0), (48.74, -7.6), (48.77, -3.5), (48.81, -8.3),
    (48.85, -3.5), (48.88, -2.9), (48.92, -1.5), (48.95, -0.5), (48.99, 0), (49.20, 0),
    (49.24, -15.8), (49.27, 0), (49.55, 0), (49.59, -5.2), (49.63, -5.9), (49.65, -10.3),
    (49.68, -11.7), (49.72, -10.3), (49.77, -15.4), (49.80, -15.8), (49.84, -14.8), (49.87, -10.0),
    (49.91, -7.6), (49.95, -5.6), (49.98, -3.9), (50.02, -2.2), (50.07, -0.8), (50.11, -2.2),
    (50.15, 0), (50.69, 0), (50.73, -1.2), (50.77, -2.5), (50.82, -3.5), (50.85, -6.9), (50.88, -6.9),
    (50.92, -7.3), (50.97, -7.9), (51.01, -9.7), (51.05, -10.7), (51.08, -11.3), (51.14, -11.7),
    (51.19, -12.0), (51.24, -12.2), (51.29, -11.7), (51.35, -11.3), (51.39, -10.0), (51.42, -10.7),
    (51.46, -9.7), (51.49, -9.3), (51.53, -8.6), (51.56, -9.0), (51.59, -5.2), (51.62, -8.3),
    (51.66, -7.9), (51.70, -8.6), (51.75, -8.3), (51.79, -7.6), (51.82, -8.3), (51.86, -3.5),
    (51.90, -9.0), (51.93, -9.7), (51.97, -10.0), (52.00, -11.0), (52.04, -11.3), (52.08, -13.4),
    (52.11, -14.1), (52.15, -15.1), (52.18, -16.1), (52.22, -17.1), (52.25, -17.8), (52.29, -17.8),
    (52.32, -17.8), (52.35, -5.9), (52.37, -17.8), (52.41, -18.1), (52.46, -17.8), (52.50, -17.5),
    (52.52, -9.3), (52.55, -16.4), (52.59, -17.1), (52.62, -16.4), (52.66, -15.8), (52.70, -15.1),
    (52.73, -14.8), (52.77, -14.1), (52.82, -13.4), (52.87, -13.0), (52.93, -12.7), (53.00, -12.4),
    (53.05, -12.0), (53.09, -13.7), (53.12, -12.0), (53.17, -11.9), (53.25, -11.7), (53.32, -11.8),
    (53.39, -12.4), (53.46, -13.0), (53.53, -13.4), (53.60, -14.1), (53.67, -14.8), (53.72, -15.2),
    (53.76, -14.1), (53.79, -15.2), (53.85, -15.2), (53.92, -15.2), (53.99, -14.9), (54.06, -14.5),
    (54.12, -14.1),
]

biceps_54_60 = [
    (54.14, -19.8), (54.21, -20.5), (54.28, -21.5), (54.35, -22.0), (54.41, -22.2), (54.46, -21.5),
    (54.50, -23.6), (54.57, -23.2), (54.64, -22.9), (54.71, -22.2), (54.78, -21.9), (54.84, -22.0),
    (54.89, -22.9), (54.94, -24.2), (54.99, -25.9), (55.05, -27.3), (55.10, -28.3), (55.13, -28.7),
    (55.16, -27.3), (55.18, -30.7), (55.21, -27.3), (55.24, -31.4), (55.29, -32.8), (55.33, -34.1),
    (55.37, -32.8), (55.42, -30.7), (55.47, -29.4), (55.52, -28.0), (55.57, -26.6), (55.63, -26.6),
    (55.70, -26.8), (55.76, -27.0), (55.79, -26.3), (55.82, -28.0), (55.86, -28.7), (55.90, -29.4),
    (55.95, -30.7), (55.99, -30.0), (56.02, -30.0), (56.06, -31.4), (56.09, -32.1), (56.13, -32.8),
    (56.20, -33.1), (56.27, -33.4), (56.36, -33.4), (56.43, -33.1), (56.46, -30.4), (56.48, -32.8),
    (56.52, -32.4), (56.57, -32.1), (56.63, -31.4), (56.68, -31.0), (56.73, -30.7), (56.75, -31.4),
    (56.79, -29.7), (56.82, -28.7), (56.87, -28.7), (56.92, -28.7), (56.97, -27.3), (57.00, -28.3),
    (57.04, -28.0), (57.09, -28.0), (57.12, -22.9), (57.14, -28.0), (57.18, -24.6), (57.21, -26.9),
    (57.26, -26.9), (57.37, -26.8), (57.48, -26.7), (57.58, -26.6), (57.69, -26.5), (57.80, -26.3),
    (57.90, -26.1), (58.01, -25.8), (58.12, -25.6), (58.22, -25.4), (58.29, -25.3), (58.40, -25.1),
    (58.51, -24.9), (58.61, -24.8), (58.72, -24.9), (58.83, -25.1), (58.90, -25.3), (58.93, -25.6),
    (58.95, -27.0), (58.99, -25.9), (59.04, -26.3), (59.11, -26.6), (59.18, -27.7), (59.25, -28.3),
    (59.29, -28.7), (59.31, -30.7), (59.34, -29.0), (59.38, -29.0), (59.43, -29.7), (59.48, -30.0),
    (59.52, -33.1), (59.55, -30.0), (59.59, -33.8), (59.62, -31.4), (59.66, -28.3), (59.69, -26.6),
    (59.73, -25.3), (59.78, -24.6), (59.83, -23.6), (59.89, -22.5), (59.94, -22.0),
]
triceps_54_60 = [
    (54.14, -13.4), (54.21, -12.7), (54.28, -12.0), (54.35, -11.7), (54.41, -12.0), (54.46, -13.7),
    (54.50, -11.3), (54.55, -11.3), (54.64, -11.8), (54.71, -12.0), (54.77, -12.7), (54.82, -13.0),
    (54.85, -13.4), (54.89, -12.7), (54.92, -11.7), (54.97, -10.7), (55.01, -9.7), (55.06, -8.3),
    (55.11, -6.9), (55.15, -6.6), (55.17, -4.9), (55.19, -7.6), (55.22, -4.9), (55.25, -2.9),
    (55.29, -1.8), (55.33, -1.2), (55.36, -2.2), (55.40, -3.2), (55.44, -4.9), (55.49, -6.2),
    (55.54, -7.6), (55.57, -8.3), (55.63, -8.6), (55.70, -8.6), (55.76, -8.3), (55.79, -8.6),
    (55.81, -9.0), (55.83, -7.3), (55.88, -6.2), (55.93, -5.6), (55.97, -4.6), (56.02, -4.2),
    (56.04, -5.2), (56.07, -3.5), (56.13, -2.7), (56.20, -2.2), (56.27, -1.8), (56.36, -1.8),
    (56.41, -2.2), (56.45, -2.5), (56.47, -5.2), (56.50, -2.9), (56.55, -2.9), (56.61, -3.9),
    (56.66, -4.2), (56.71, -3.9), (56.75, -3.9), (56.79, -5.6), (56.82, -6.9), (56.87, -6.2),
    (56.92, -6.9), (56.98, -8.3), (57.02, -7.3), (57.05, -7.3), (57.09, -8.3), (57.12, -12.7),
    (57.16, -8.3), (57.18, -10.7), (57.21, -8.6), (57.26, -8.3), (57.37, -8.4), (57.48, -8.6),
    (57.58, -8.8), (57.69, -9.0), (57.80, -9.2), (57.90, -9.4), (58.01, -9.8), (58.12, -10.0),
    (58.22, -10.1), (58.29, -10.3), (58.36, -10.4), (58.47, -10.5), (58.58, -10.7), (58.68, -10.6),
    (58.79, -10.4), (58.86, -10.2), (58.93, -9.8), (58.95, -8.3), (58.99, -9.6), (59.04, -9.5),
    (59.11, -9.0), (59.18, -7.9), (59.25, -7.3), (59.29, -7.3), (59.31, -4.6), (59.34, -6.2),
    (59.38, -6.2), (59.43, -5.9), (59.48, -5.4), (59.52, -2.3), (59.55, -5.6), (59.59, -1.5),
    (59.62, -2.9), (59.66, -6.9), (59.69, -9.7), (59.73, -10.3), (59.78, -10.7), (59.82, -11.3),
    (59.87, -12.0), (59.94, -13.0),
]

x_ticks = [0, 10, 20, 30, 40, 50, 60]
y_ticks = [0, -20, -40, -60, -80, -100]


def frame(parts, name):
    rows = [p for part in parts for p in part]
    df = pd.DataFrame(rows, columns=["time", "value"])
    df["muscle"] = name
    return df


biceps = frame([biceps_00_10, biceps_10_21, biceps_21_32, biceps_32_43, biceps_43_54, biceps_54_60], "Biceps")
triceps = frame([triceps_00_10, triceps_10_21, triceps_21_32, triceps_32_43, triceps_43_54, triceps_54_60], "Triceps")

FONT = "DejaVu Sans"

x_enc = alt.X(
    "time:Q",
    scale=alt.Scale(domain=[-2.98, 62.93], nice=False, zero=False),
    axis=alt.Axis(values=x_ticks, format="d", title="Time [s]",
                  titleBaseline="alphabetic", titleY=47),
)
y_enc = alt.Y(
    "value:Q",
    scale=alt.Scale(domain=[-104.2, 4.97], nice=False, zero=False),
    axis=alt.Axis(values=y_ticks, format="d", title="Length [m]",
                  titleBaseline="alphabetic", titleX=-49),
)


def line(df, color):
    return (
        alt.Chart(df)
        .mark_line(color=color, strokeWidth=4.2, strokeJoin="round", strokeCap="square")
        .encode(x=x_enc, y=y_enc, order="time:Q")
    )


chart = (
    alt.layer(line(triceps, "#008000"), line(biceps, "#ff0000"))
    .properties(
        width=3904,
        height=1328,
        autosize=alt.AutoSizeParams(type="none"),
        padding={"left": 78, "top": 93, "right": 0, "bottom": 60},
        title=alt.Title(
            text="Forces - P7500I250D250 - Time from 0s to 59s",
            subtitle="Biceps (red) and Triceps (green)",
            font=FONT, subtitleFont=FONT,
            fontSize=44, subtitleFontSize=44,
            fontWeight="normal", color="black", subtitleColor="black",
            anchor="middle", offset=-3, subtitlePadding=3,
        ),
    )
    .configure_view(stroke="black", strokeWidth=1.1)
    .configure_axis(
        grid=False, domain=False,
        labelFont=FONT, titleFont=FONT,
        labelFontSize=14, labelColor="black",
        titleFontSize=26, titleFontWeight="normal", titleColor="black",
        tickColor="black", tickWidth=1.1, tickSize=5,
    )
    .configure_axisX(labelPadding=2)
    .configure_axisY(labelPadding=5)
)

chart.save("out.html", embed_options={"renderer": "svg", "actions": False})
